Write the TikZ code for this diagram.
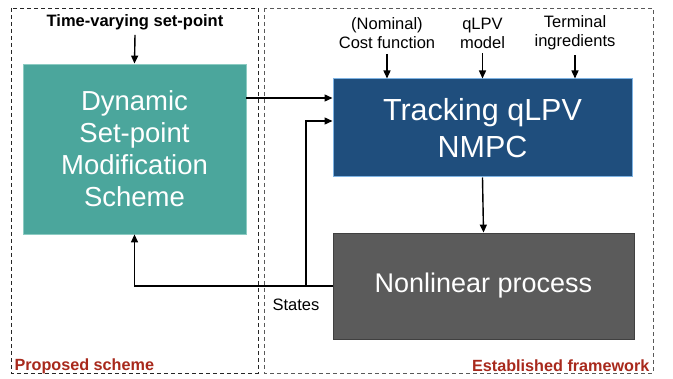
\documentclass[tikz,border=0pt]{standalone}
\usepackage{fontspec}
\setmainfont{Liberation Sans}
\usetikzlibrary{arrows.meta}

\definecolor{tealbox}{HTML}{4BA69C}
\definecolor{tealedge}{HTML}{8CCBC2}
\definecolor{bluebox}{HTML}{1F4E7D}
\definecolor{blueedge}{HTML}{7EB3E3}
\definecolor{graybox}{HTML}{5B5B5B}
\definecolor{frametext}{HTML}{A8291C}

\tikzset{
  arr/.style={line width=1.4pt, -{Triangle[length=8pt,width=7pt]}},
  frame/.style={dashed, line width=0.8pt, dash pattern=on 4pt off 3pt},
  smalltxt/.style={font=\fontsize{16.5}{19}\selectfont, align=center, inner sep=1pt},
}

\begin{document}
\begin{tikzpicture}[x=1pt, y=-1pt]
        \useasboundingbox (0,0) rectangle (673,379);

        % Draw the two dashed frames
        \draw[frame, black!85] (11,8) rectangle (258,373);
        \draw[frame, black!65] (264,8) rectangle (653,373);
        \node[anchor=west, text=frametext, font=\fontsize{16.2}{19}\selectfont\bfseries] (prop) at (11,366) {Proposed scheme};
        \node[anchor=east, text=frametext, font=\fontsize{16.2}{19}\selectfont\bfseries] (estab) at (653,366) {Established framework};

        % Draw the blocks
        \node[fill=tealbox, draw=tealedge, line width=0.8pt, minimum width=223pt, minimum height=170pt, text=white, align=center, font=\fontsize{27.5}{32}\selectfont] (dsm) at (134.5,149) {Dynamic\\Set-point\\Modification\\Scheme};
        \node[fill=bluebox, draw=blueedge, line width=1pt, minimum width=299pt, minimum height=98pt, text=white, align=center, font=\fontsize{30.5}{37}\selectfont] (nmpc) at (482.5,128) {Tracking qLPV\\NMPC};
        \node[fill=graybox, draw=black!75, line width=0.8pt, minimum width=301pt, minimum height=106pt, text=white, font=\fontsize{27}{32}\selectfont] (proc) at (483.5,286) {Nonlinear process};

        % Labels for the inputs
        \node[smalltxt, font=\fontsize{16.5}{19}\selectfont\bfseries] (setpt) at (135,22) {Time-varying set-point};
        \node[smalltxt] (cost) at (387,33) {(Nominal)\\Cost function};
        \node[smalltxt] (model) at (482.5,33) {qLPV\\model};
        \node[smalltxt] (term) at (575,33) {Terminal\\ingredients};
        \node[smalltxt] (states) at (296,305) {States};

        % Draw the connectors
        \coordinate (tap) at (306,286);
        \draw[arr] ([yshift=-4pt]setpt.south) -- (dsm.north);
        \draw[arr] ([yshift=-4pt]cost.south) -- (cost.south |- nmpc.north);
        \draw[arr] ([yshift=-4pt]model.south) -- (model.south |- nmpc.north);
        \draw[arr] ([yshift=-4pt]term.south) -- (term.south |- nmpc.north);
        \draw[arr] ([yshift=30pt]nmpc.west -| dsm.east) -- ([yshift=30pt]nmpc.west);
        \draw[arr] (tap) |- ([yshift=7pt]nmpc.west);
        \draw[arr] (proc.west) -- (dsm.south |- proc.west) -- (dsm.south);
        \draw[arr] (nmpc.south) -- (proc.north);
    \end{tikzpicture}
\end{document}
